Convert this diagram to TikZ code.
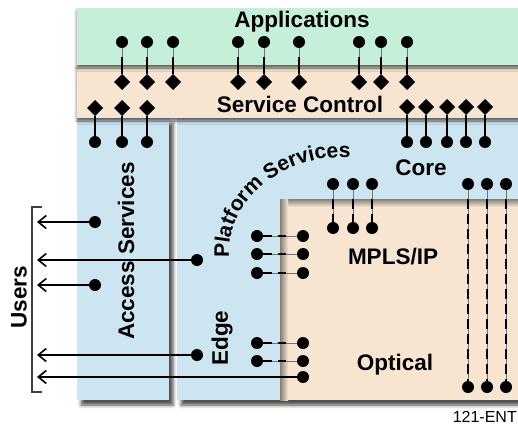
\documentclass[tikz,border=0pt]{standalone}
\usepackage{fontspec}
\setmainfont{Liberation Sans}
\usetikzlibrary{shapes.geometric, arrows.meta, shadows.blur, decorations.text}

\definecolor{appgreen}{RGB}{197,239,216}
\definecolor{ctlpeach}{RGB}{247,229,210}
\definecolor{netblue}{RGB}{205,228,241}

\begin{document}
\begin{tikzpicture}[x=1pt,y=1pt,
  band/.style={blur shadow={shadow xshift=0pt, shadow yshift=-3pt, shadow blur radius=3pt, shadow opacity=60}},
  column/.style={blur shadow={shadow xshift=4pt, shadow yshift=-5pt, shadow blur radius=3.5pt, shadow opacity=70}},
  dot/.style={circle, fill=black, inner sep=0pt, outer sep=0pt, minimum size=12pt},
  dia/.style={diamond, fill=black, inner sep=0pt, outer sep=0pt, minimum width=16pt, minimum height=16pt},
  hair/.style={line width=0.5pt, black!55},
  bar/.style={line width=2.4pt},
  dashbar/.style={line width=2.4pt, dash pattern=on 10pt off 5pt},
  edgedash/.style={line width=2.4pt, dash pattern=on 9pt off 6pt on 8pt off 20pt},
  lbl/.style={font=\fontsize{22.5}{24}\selectfont\bfseries, inner sep=0pt},
  toUser/.style={line width=1.6pt, -{Straight Barb[length=8pt,width=13pt]}}
]
\useasboundingbox (0,0) rectangle (518,-425);

% columns: access and platform
\fill[netblue, column] (77,-118) rectangle (169,-400);
\fill[netblue, column] (177,-118) rectangle (540,-400);

% MPLS/IP and optical area, recessed into the platform
\fill[ctlpeach] (280,-199) rectangle (540,-400);
\shade[top color=black!45!ctlpeach, bottom color=ctlpeach] (280,-199) rectangle (540,-207);
\shade[left color=black!45!ctlpeach, right color=ctlpeach] (280,-199) rectangle (288,-400);

% horizontal bands
\fill[ctlpeach, band] (77,-65) rectangle (540,-118);
\fill[appgreen, band] (77,-8) rectangle (540,-65);

% labels
\node[lbl] (apps) at (302,-22) {Applications};
\node[lbl] (svc) at (300,-104) {Service Control};
\node[lbl] (core) at (421,-168) {Core};
\node[lbl] (mpls) at (393,-257) {MPLS/IP};
\node[lbl] (opt) at (395,-365) {Optical};
\node[lbl, rotate=90] (acc) at (126,-251) {Access Services};
\node[lbl, rotate=90] (edge) at (222,-338) {Edge};
\node[lbl, rotate=90] (usr) at (19,-297) {Users};
\node[font=\fontsize{16}{16}\selectfont, inner sep=0pt, anchor=base east] (tag) at (517,-422) {121-ENT};
\path[decorate, decoration={text along path, text align=center,
    text={|\fontsize{21}{21}\selectfont\bfseries|Platform Services}}]
  (345,-252) ++(190:116 and 95) arc[start angle=190, end angle=82, x radius=116, y radius=95];

% applications to service control
\foreach \x [count=\i] in {122,147,173,238,264,299,359,381,407} {
  \node[dot] (ap\i) at (\x,-42) {};
  \node[dia] (sc\i) at (\x,-82) {};
  \draw[hair] (ap\i) -- (sc\i);
  \draw[bar, shorten <=9pt] (ap\i) -- (sc\i);
}

% service control to access
\foreach \x [count=\i] in {95,122,147} {
  \node[dia] (sl\i) at (\x,-108) {};
  \node[dot] (ac\i) at (\x,-142) {};
  \draw[bar] (sl\i) -- (ac\i);
}

% service control to core
\foreach \x [count=\i] in {407,426,447,466,485} {
  \node[dia] (sr\i) at (\x,-107) {};
  \node[dot] (co\i) at (\x,-142) {};
  \draw[bar] (sr\i) -- (co\i);
}

% core to MPLS/IP
\foreach \x [count=\i] in {333,353,372} {
  \node[dot] (cm\i) at (\x,-184) {};
  \node[dot] (mp\i) at (\x,-228) {};
  \draw[hair] (cm\i) -- (mp\i);
  \draw[dashbar, shorten <=9pt] (cm\i) -- (mp\i);
}

% core to optical
\foreach \x [count=\i] in {468,487,506} {
  \node[dot] (cr\i) at (\x,-184) {};
  \node[dot] (op\i) at (\x,-387) {};
  \draw[hair] (cr\i) -- (op\i);
  \draw[dashbar, shorten <=9pt] (cr\i) -- (op\i);
}

% edge to MPLS/IP and optical
\foreach \y [count=\i] in {236,254,273,343,361} {
  \node[dot] (el\i) at (257,-\y) {};
  \node[dot] (er\i) at (303,-\y) {};
  \draw[hair] (el\i) -- (er\i);
  \draw[edgedash] (el\i) -- (er\i);
}
\node[dot] (er6) at (303,-377) {};

% links out to users
\node[dot] (au1) at (95,-222) {};
\node[dot] (au2) at (95,-285) {};
\node[dot] (pu1) at (197,-260) {};
\node[dot] (pu2) at (197,-355) {};
\coordinate (u1) at (37,-222);
\coordinate (u2) at (37,-260);
\coordinate (u3) at (37,-285);
\coordinate (u4) at (37,-355);
\coordinate (u5) at (37,-377);
\draw[toUser] (au1) -- (u1);
\draw[toUser] (pu1) -- (u2);
\draw[toUser] (au2) -- (u3);
\draw[toUser] (pu2) -- (u4);
\draw[toUser] (er6) -- (u5);

% users bracket
\coordinate (bt) at (42,-207);
\coordinate (bb) at (42,-392);
\draw[line width=1.3pt, black!75] (bt) -- (32,-207) -- (32,-392) -- (bb);
\end{tikzpicture}
\end{document}
